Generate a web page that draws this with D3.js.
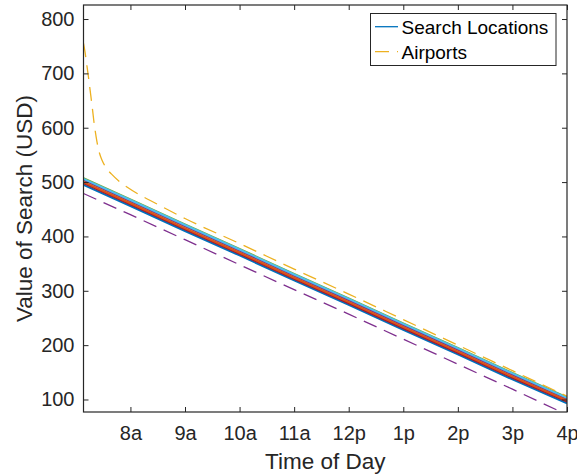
<!DOCTYPE html>
<html>
<head>
<meta charset="utf-8">
<script src="https://cdn.jsdelivr.net/npm/d3@7"></script>
<style>
  html, body { margin: 0; padding: 0; background: #fff; }
  svg { display: block; font-family: "Liberation Sans", Arial, Helvetica, sans-serif; }
</style>
</head>
<body>
<svg id="chart" width="577" height="476"></svg>
<script>
// Hours of the day (decimal) at which the linear series are sampled
const hours = [7.14, 8, 9, 10, 11, 12, 13, 14, 15, 16];

// Search-location value curves (USD), one per location
const locBlue    = [495, 456, 410, 365, 319, 274, 228, 183, 137, 93];
const locOrange  = [500, 461, 415, 370, 324, 279, 233, 188, 142, 98];
const locYellow  = [503, 464, 418, 373, 327, 282, 236, 191, 145, 100];
const locPurple  = [504, 465, 419, 374, 328, 283, 237, 192, 146, 101];
const locGreen   = [507, 468, 422, 377, 331, 286, 240, 195, 149, 104];
const locCyan    = [506, 467, 421, 376, 330, 285, 239, 194, 148, 103];
const locDarkRed = [498, 459, 413, 368, 322, 277, 231, 186, 140, 96];

// Airport series: steep early drop, then steady decline
const airportHours  = [7.14, 7.17, 7.20, 7.23, 7.26, 7.30, 7.33, 7.37, 7.42, 7.48, 7.55, 7.65, 7.80, 7.95, 8.5, 9, 10, 11, 12, 13, 14, 15, 16];
const airportValues = [755, 738, 716, 694, 670, 638, 612, 584, 558, 540, 527, 515, 501, 490, 459, 433, 387, 340, 294, 247, 200, 153, 106];

// Second airport series (dashed purple)
const airport2Values = [479, 440, 394, 348, 302, 257, 211, 165, 119, 72];

// Axis ticks
const xTickHours  = [8, 9, 10, 11, 12, 13, 14, 15, 16];
const xTickLabels = ["8a", "9a", "10a", "11a", "12p", "1p", "2p", "3p", "4p"];
const yTicks = [100, 200, 300, 400, 500, 600, 700, 800];

const legendLabels = ["Search Locations", "Airports"];

const solidSeries = [
  { values: locBlue,    color: "#0072BD" },
  { values: locYellow,  color: "#EDB120" },
  { values: locPurple,  color: "#7E2F8E" },
  { values: locGreen,   color: "#77AC30" },
  { values: locCyan,    color: "#4DBEEE" },
  { values: locDarkRed, color: "#A2142F" },
  { values: locOrange,  color: "#D95319" }
];

const svg = d3.select("#chart");
const box = { left: 83.5, right: 567, top: 5, bottom: 412 };
const axisColor = "#262626";

const x = d3.scaleLinear().domain([7.14, 16]).range([box.left, box.right]);
const y = d3.scaleLinear().domain([77, 825.8]).range([box.bottom, box.top]);

svg.append("defs").append("clipPath").attr("id", "plotClip")
  .append("rect")
  .attr("x", box.left).attr("y", box.top)
  .attr("width", box.right - box.left).attr("height", box.bottom - box.top);

const plot = svg.append("g").attr("clip-path", "url(#plotClip)");

const line = d3.line().x(d => x(d[0])).y(d => y(d[1]));

// Search-location lines
solidSeries.forEach(s => {
  plot.append("path")
    .datum(hours.map((h, i) => [h, s.values[i]]))
    .attr("d", line)
    .attr("fill", "none")
    .attr("stroke", s.color)
    .attr("stroke-width", 2);
});

// Airport lines (dashed)
plot.append("path")
  .datum(hours.map((h, i) => [h, airport2Values[i]]))
  .attr("d", line)
  .attr("fill", "none")
  .attr("stroke", "#7E2F8E")
  .attr("stroke-width", 1.3)
  .attr("stroke-dasharray", "14,8");

plot.append("path")
  .datum(airportHours.map((h, i) => [h, airportValues[i]]))
  .attr("d", d3.line().x(d => x(d[0])).y(d => y(d[1])).curve(d3.curveMonotoneX))
  .attr("fill", "none")
  .attr("stroke", "#EDB120")
  .attr("stroke-width", 1.3)
  .attr("stroke-dasharray", "14,8");

// Axes: ticks inside on all four sides, box outline
const tickLen = 5;
const xAxisBottom = d3.axisBottom(x).tickValues(xTickHours).tickSizeInner(-tickLen).tickSizeOuter(0)
  .tickFormat((d, i) => xTickLabels[i]).tickPadding(14);
const xAxisTop = d3.axisTop(x).tickValues(xTickHours).tickSizeInner(-tickLen).tickSizeOuter(0).tickFormat("");
const yAxisLeft = d3.axisLeft(y).tickValues(yTicks).tickSizeInner(-tickLen).tickSizeOuter(0).tickPadding(9);
const yAxisRight = d3.axisRight(y).tickValues(yTicks).tickSizeInner(-tickLen).tickSizeOuter(0).tickFormat("");

function styleAxis(g) {
  g.select(".domain").remove();
  g.selectAll(".tick line").attr("stroke", axisColor).attr("stroke-width", 1);
  g.selectAll(".tick text").attr("fill", axisColor).attr("font-size", 20)
    .attr("font-family", "Liberation Sans, Arial, sans-serif");
}

svg.append("g").attr("transform", `translate(0,${box.bottom})`).call(xAxisBottom).call(styleAxis);
svg.append("g").attr("transform", `translate(0,${box.top})`).call(xAxisTop).call(styleAxis);
svg.append("g").attr("transform", `translate(${box.left},0)`).call(yAxisLeft).call(styleAxis);
svg.append("g").attr("transform", `translate(${box.right},0)`).call(yAxisRight).call(styleAxis);

svg.append("rect")
  .attr("x", box.left).attr("y", box.top)
  .attr("width", box.right - box.left).attr("height", box.bottom - box.top)
  .attr("fill", "none").attr("stroke", axisColor).attr("stroke-width", 1.2);

// Axis titles
svg.append("text")
  .attr("x", (box.left + box.right) / 2).attr("y", 469)
  .attr("text-anchor", "middle").attr("font-size", 22.5).attr("fill", axisColor)
  .text("Time of Day");

svg.append("text")
  .attr("transform", `translate(32,${(box.top + box.bottom) / 2}) rotate(-90)`)
  .attr("text-anchor", "middle").attr("font-size", 22.5).attr("fill", axisColor)
  .text("Value of Search (USD)");

// Legend
const legend = svg.append("g");
legend.append("rect")
  .attr("x", 370.5).attr("y", 13.5).attr("width", 185.5).attr("height", 52)
  .attr("fill", "#fff").attr("stroke", axisColor).attr("stroke-width", 1);

const legendItems = [
  { label: legendLabels[0], color: "#0072BD", dash: null, y: 26.7 },
  { label: legendLabels[1], color: "#EDB120", dash: "14,8", y: 51.7 }
];
legendItems.forEach(it => {
  legend.append("line")
    .attr("x1", 375).attr("x2", 398).attr("y1", it.y).attr("y2", it.y)
    .attr("stroke", it.color).attr("stroke-width", 1.3)
    .attr("stroke-dasharray", it.dash);
  legend.append("text")
    .attr("x", 401.5).attr("y", it.y + 7.2)
    .attr("font-size", 19).attr("fill", "#000")
    .text(it.label);
});
</script>
</body>
</html>
